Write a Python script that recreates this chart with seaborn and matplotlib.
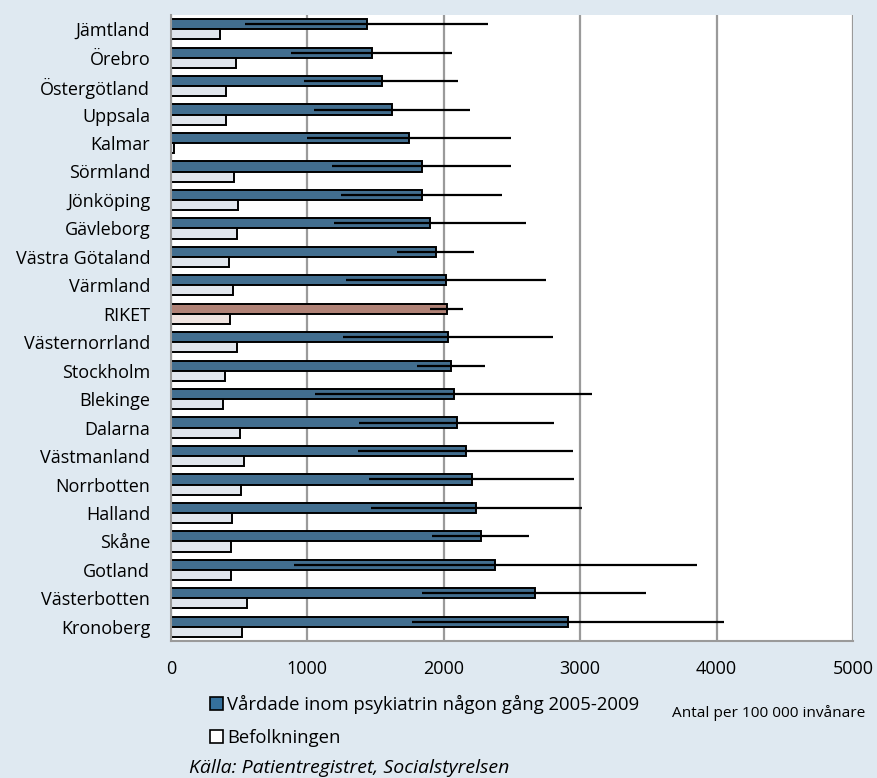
import pandas as pd
import numpy as np

import matplotlib
matplotlib.use("Agg")
import matplotlib.pyplot as plt
from matplotlib.patches import Patch
import seaborn as sns


# data (antal per 100 000 invånare), top to bottom
lan = ["Jämtland", "Örebro", "Östergötland", "Uppsala", "Kalmar", "Sörmland",
       "Jönköping", "Gävleborg", "Västra Götaland", "Värmland", "RIKET",
       "Västernorrland", "Stockholm", "Blekinge", "Dalarna", "Västmanland",
       "Norrbotten", "Halland", "Skåne", "Gotland", "Västerbotten", "Kronoberg"]

vardade = [1435, 1474, 1545, 1623, 1745, 1838, 1838, 1901, 1940, 2019, 2021,
           2031, 2055, 2072, 2094, 2160, 2207, 2234, 2273, 2375, 2666, 2913]
ci_low = [543, 880, 977, 1051, 997, 1180, 1246, 1195, 1657, 1283, 1901,
          1263, 1801, 1056, 1378, 1371, 1454, 1464, 1916, 902, 1840, 1769]
ci_high = [2322, 2063, 2107, 2195, 2490, 2493, 2429, 2603, 2219, 2752, 2139,
           2798, 2302, 3089, 2808, 2945, 2957, 3011, 2627, 3856, 3482, 4051]
befolkningen = [360, 479, 406, 401, 25, 464, 489, 484, 423, 455, 433,
                486, 398, 384, 506, 538, 511, 450, 440, 442, 559, 520]

serie_1 = "Vårdade inom psykiatrin någon gång 2005-2009"
serie_2 = "Befolkningen"

df = pd.DataFrame({
    "lan": lan * 2,
    "varde": vardade + befolkningen,
    "serie": [serie_1] * len(lan) + [serie_2] * len(lan),
})

bg = "#dfe9f1"
blue = "#35709c"
light = "#dfe6ef"
riket_dark = "#b08276"
riket_light = "#f0e4e0"

sns.set_style("white")
plt.rcParams["font.family"] = ["Open Sans", "DejaVu Sans"]
plt.rcParams["text.color"] = "black"
plt.rcParams["xtick.color"] = "black"
plt.rcParams["ytick.color"] = "black"

fig = plt.figure(figsize=(8.77, 7.78), dpi=100, facecolor=bg)
ax = fig.add_axes([171 / 877, 1 - 641 / 778, (853 - 171) / 877, (641 - 15) / 778])

sns.barplot(data=df, x="varde", y="lan", hue="serie", orient="h",
            palette=[blue, light], width=0.71, edgecolor="black",
            linewidth=1.4, legend=False, ax=ax)

# seaborn draws all blue bars first, then all light bars
n = len(lan)
blue_bars = ax.patches[:n]
light_bars = ax.patches[n:2 * n]
ri = lan.index("RIKET")
blue_bars[ri].set_facecolor(riket_dark)
light_bars[ri].set_facecolor(riket_light)

# konfidensintervall on the blue bars
centers = [p.get_y() + p.get_height() / 2 for p in blue_bars]
v = np.array(vardade)
ax.errorbar(v, centers, xerr=[v - np.array(ci_low), np.array(ci_high) - v],
            fmt="none", ecolor="black", elinewidth=1.6, capsize=0, zorder=5)

ax.set_xlim(0, 5000)
ax.set_ylim(n - 0.5, -0.5)
ax.set_xticks([0, 1000, 2000, 3000, 4000, 5000])
ax.xaxis.grid(True, color="#9a9a9a", linewidth=1.6)
ax.set_axisbelow(True)
ax.set_xlabel("")
ax.set_ylabel("")

for s in ["top", "right"]:
    ax.spines[s].set_visible(False)
for s in ["left", "bottom"]:
    ax.spines[s].set_color("#9a9a9a")
    ax.spines[s].set_linewidth(1.5)

ax.tick_params(axis="y", length=0, pad=15, labelsize=13)
ax.set_yticks(np.arange(n + 1) - 0.5, minor=True)
ax.tick_params(axis="y", which="minor", length=5, width=1.2, color="#9a9a9a")
ax.tick_params(axis="x", length=6, width=1.2, color="#9a9a9a", pad=8, labelsize=13)

handles = [Patch(facecolor=blue, edgecolor="black", linewidth=1.2),
           Patch(facecolor="white", edgecolor="black", linewidth=1.2)]
fig.legend(handles, [serie_1, serie_2], loc="upper left",
           bbox_to_anchor=(203 / 877, 1 - 688 / 778), frameon=False,
           fontsize=13.3, handlelength=0.7, handleheight=0.7,
           handletextpad=0.2, labelspacing=0.8, borderaxespad=0)

fig.text(672 / 877, 1 - 713 / 778, "Antal per 100 000 invånare",
         fontsize=11.1, va="center", ha="left")
fig.text(189 / 877, 1 - 768 / 778, "Källa: Patientregistret, Socialstyrelsen",
         fontsize=14, style="italic", va="center", ha="left")

fig.savefig("out.png", dpi=100, facecolor=bg)
